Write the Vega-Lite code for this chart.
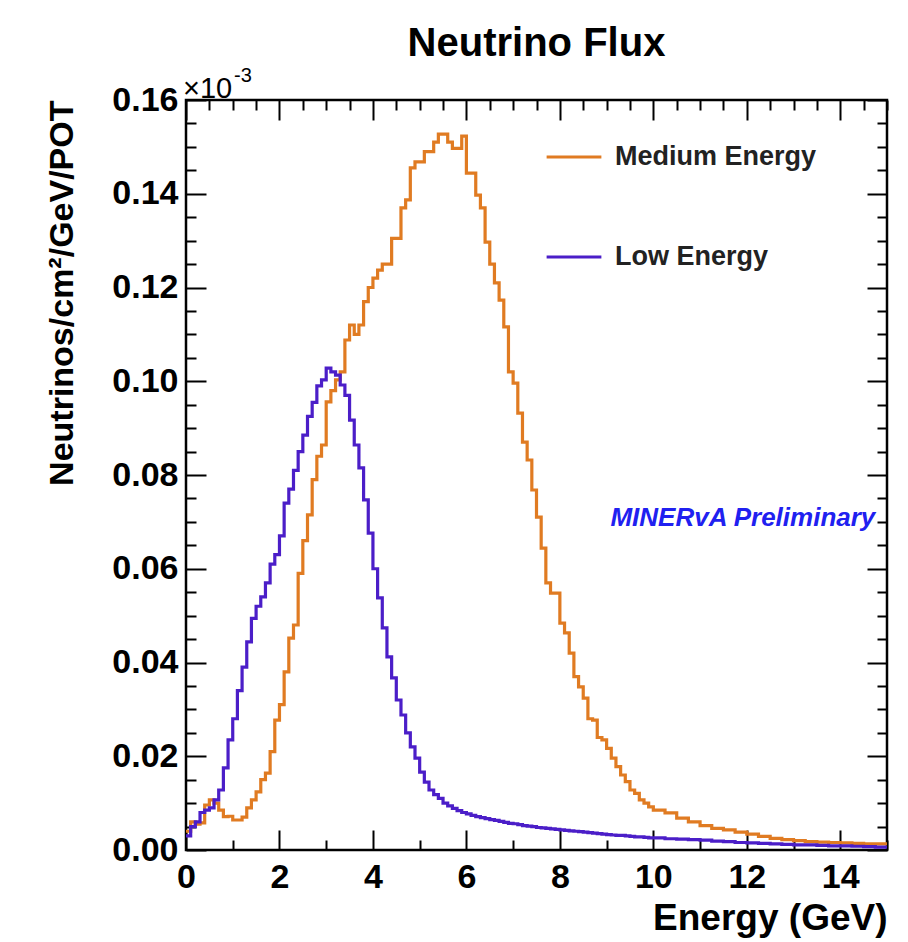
{
  "$schema": "https://vega.github.io/schema/vega-lite/v6.json",
  "autosize": "none",
  "width": 701,
  "height": 750,
  "padding": {"left": 186, "top": 100, "right": 21, "bottom": 92},
  "background": "white",
  "config": {
    "font": "Liberation Sans",
    "view": {"stroke": "black", "strokeWidth": 2.5},
    "axis": {"domain": false, "grid": false, "tickColor": "black", "tickWidth": 2, "labelColor": "black", "titleColor": "black", "labelFont": "Liberation Sans", "titleFont": "Liberation Sans", "labelFontWeight": "bold", "titleFontWeight": "bold"}
  },
  "title": {"text": "Neutrino Flux", "fontSize": 40, "fontWeight": "bold", "font": "Liberation Sans", "color": "black", "anchor": "middle", "offset": 2},
  "data": {"values": [
    {"E":0.0,"Medium Energy":0.004,"Low Energy":0.003},
    {"E":0.1,"Medium Energy":0.006,"Low Energy":0.005},
    {"E":0.2,"Medium Energy":0.0055,"Low Energy":0.006},
    {"E":0.3,"Medium Energy":0.0058,"Low Energy":0.008},
    {"E":0.4,"Medium Energy":0.0096,"Low Energy":0.0085},
    {"E":0.5,"Medium Energy":0.0107,"Low Energy":0.009},
    {"E":0.6,"Medium Energy":0.0100,"Low Energy":0.0107},
    {"E":0.7,"Medium Energy":0.0085,"Low Energy":0.0128},
    {"E":0.8,"Medium Energy":0.0071,"Low Energy":0.0175},
    {"E":0.9,"Medium Energy":0.0072,"Low Energy":0.0235},
    {"E":1.0,"Medium Energy":0.0064,"Low Energy":0.028},
    {"E":1.1,"Medium Energy":0.0064,"Low Energy":0.034},
    {"E":1.2,"Medium Energy":0.007,"Low Energy":0.039},
    {"E":1.3,"Medium Energy":0.009,"Low Energy":0.0444},
    {"E":1.4,"Medium Energy":0.0107,"Low Energy":0.0494},
    {"E":1.5,"Medium Energy":0.0124,"Low Energy":0.052},
    {"E":1.6,"Medium Energy":0.015,"Low Energy":0.054},
    {"E":1.7,"Medium Energy":0.0164,"Low Energy":0.057},
    {"E":1.8,"Medium Energy":0.021,"Low Energy":0.061},
    {"E":1.9,"Medium Energy":0.0277,"Low Energy":0.063},
    {"E":2.0,"Medium Energy":0.031,"Low Energy":0.067},
    {"E":2.1,"Medium Energy":0.038,"Low Energy":0.074},
    {"E":2.2,"Medium Energy":0.0452,"Low Energy":0.077},
    {"E":2.3,"Medium Energy":0.048,"Low Energy":0.081},
    {"E":2.4,"Medium Energy":0.059,"Low Energy":0.085},
    {"E":2.5,"Medium Energy":0.066,"Low Energy":0.0885},
    {"E":2.6,"Medium Energy":0.0715,"Low Energy":0.0925},
    {"E":2.7,"Medium Energy":0.079,"Low Energy":0.0955},
    {"E":2.8,"Medium Energy":0.084,"Low Energy":0.099},
    {"E":2.9,"Medium Energy":0.0864,"Low Energy":0.1003},
    {"E":3.0,"Medium Energy":0.0956,"Low Energy":0.1028},
    {"E":3.1,"Medium Energy":0.098,"Low Energy":0.102},
    {"E":3.2,"Medium Energy":0.1003,"Low Energy":0.1013},
    {"E":3.3,"Medium Energy":0.102,"Low Energy":0.0992},
    {"E":3.4,"Medium Energy":0.1088,"Low Energy":0.097},
    {"E":3.5,"Medium Energy":0.112,"Low Energy":0.0917},
    {"E":3.6,"Medium Energy":0.110,"Low Energy":0.0864},
    {"E":3.7,"Medium Energy":0.112,"Low Energy":0.0815},
    {"E":3.8,"Medium Energy":0.117,"Low Energy":0.0747},
    {"E":3.9,"Medium Energy":0.120,"Low Energy":0.0676},
    {"E":4.0,"Medium Energy":0.122,"Low Energy":0.060},
    {"E":4.1,"Medium Energy":0.1237,"Low Energy":0.0538},
    {"E":4.2,"Medium Energy":0.125,"Low Energy":0.0474},
    {"E":4.3,"Medium Energy":0.125,"Low Energy":0.0412},
    {"E":4.4,"Medium Energy":0.1305,"Low Energy":0.0367},
    {"E":4.5,"Medium Energy":0.1305,"Low Energy":0.032},
    {"E":4.6,"Medium Energy":0.137,"Low Energy":0.0288},
    {"E":4.7,"Medium Energy":0.1387,"Low Energy":0.025},
    {"E":4.8,"Medium Energy":0.1455,"Low Energy":0.022},
    {"E":4.9,"Medium Energy":0.1468,"Low Energy":0.0196},
    {"E":5.0,"Medium Energy":0.1468,"Low Energy":0.0166},
    {"E":5.1,"Medium Energy":0.149,"Low Energy":0.0145},
    {"E":5.2,"Medium Energy":0.149,"Low Energy":0.0128},
    {"E":5.3,"Medium Energy":0.151,"Low Energy":0.0118},
    {"E":5.4,"Medium Energy":0.1527,"Low Energy":0.011},
    {"E":5.5,"Medium Energy":0.1527,"Low Energy":0.0100},
    {"E":5.6,"Medium Energy":0.151,"Low Energy":0.0094},
    {"E":5.7,"Medium Energy":0.1497,"Low Energy":0.0089},
    {"E":5.8,"Medium Energy":0.1497,"Low Energy":0.0084},
    {"E":5.9,"Medium Energy":0.1523,"Low Energy":0.0080},
    {"E":6.0,"Medium Energy":0.1444,"Low Energy":0.0077},
    {"E":6.1,"Medium Energy":0.1444,"Low Energy":0.0074},
    {"E":6.2,"Medium Energy":0.1397,"Low Energy":0.0071},
    {"E":6.3,"Medium Energy":0.137,"Low Energy":0.0069},
    {"E":6.4,"Medium Energy":0.1297,"Low Energy":0.0067},
    {"E":6.5,"Medium Energy":0.125,"Low Energy":0.0065},
    {"E":6.6,"Medium Energy":0.121,"Low Energy":0.0063},
    {"E":6.7,"Medium Energy":0.1173,"Low Energy":0.0061},
    {"E":6.8,"Medium Energy":0.1116,"Low Energy":0.0059},
    {"E":6.9,"Medium Energy":0.102,"Low Energy":0.0057},
    {"E":7.0,"Medium Energy":0.0996,"Low Energy":0.0056},
    {"E":7.1,"Medium Energy":0.0932,"Low Energy":0.0054},
    {"E":7.2,"Medium Energy":0.087,"Low Energy":0.0052},
    {"E":7.3,"Medium Energy":0.0832,"Low Energy":0.0051},
    {"E":7.4,"Medium Energy":0.0768,"Low Energy":0.0050},
    {"E":7.5,"Medium Energy":0.071,"Low Energy":0.0048},
    {"E":7.6,"Medium Energy":0.0644,"Low Energy":0.0047},
    {"E":7.7,"Medium Energy":0.057,"Low Energy":0.0046},
    {"E":7.8,"Medium Energy":0.0548,"Low Energy":0.0045},
    {"E":7.9,"Medium Energy":0.0548,"Low Energy":0.0044},
    {"E":8.0,"Medium Energy":0.0484,"Low Energy":0.0043},
    {"E":8.1,"Medium Energy":0.0463,"Low Energy":0.0042},
    {"E":8.2,"Medium Energy":0.042,"Low Energy":0.0041},
    {"E":8.3,"Medium Energy":0.037,"Low Energy":0.0040},
    {"E":8.4,"Medium Energy":0.0348,"Low Energy":0.0039},
    {"E":8.5,"Medium Energy":0.0324,"Low Energy":0.0038},
    {"E":8.6,"Medium Energy":0.028,"Low Energy":0.0037},
    {"E":8.7,"Medium Energy":0.0277,"Low Energy":0.0036},
    {"E":8.8,"Medium Energy":0.024,"Low Energy":0.0035},
    {"E":8.9,"Medium Energy":0.0235,"Low Energy":0.0034},
    {"E":9.0,"Medium Energy":0.0217,"Low Energy":0.0033},
    {"E":9.1,"Medium Energy":0.0196,"Low Energy":0.0032},
    {"E":9.2,"Medium Energy":0.0178,"Low Energy":0.0031},
    {"E":9.3,"Medium Energy":0.016,"Low Energy":0.0031},
    {"E":9.4,"Medium Energy":0.0146,"Low Energy":0.0030},
    {"E":9.5,"Medium Energy":0.0128,"Low Energy":0.0029},
    {"E":9.6,"Medium Energy":0.0121,"Low Energy":0.0028},
    {"E":9.7,"Medium Energy":0.0107,"Low Energy":0.0028},
    {"E":9.8,"Medium Energy":0.010,"Low Energy":0.0027},
    {"E":9.9,"Medium Energy":0.0092,"Low Energy":0.0026},
    {"E":10.0,"Medium Energy":0.0085,"Low Energy":0.0026},
    {"E":10.25,"Medium Energy":0.0079,"Low Energy":0.0024},
    {"E":10.5,"Medium Energy":0.0068,"Low Energy":0.0023},
    {"E":10.75,"Medium Energy":0.0060,"Low Energy":0.0022},
    {"E":11.0,"Medium Energy":0.0052,"Low Energy":0.0021},
    {"E":11.25,"Medium Energy":0.0046,"Low Energy":0.0019},
    {"E":11.5,"Medium Energy":0.0043,"Low Energy":0.0018},
    {"E":11.75,"Medium Energy":0.0038,"Low Energy":0.0016},
    {"E":12.0,"Medium Energy":0.0034,"Low Energy":0.0015},
    {"E":12.25,"Medium Energy":0.0029,"Low Energy":0.0014},
    {"E":12.5,"Medium Energy":0.0025,"Low Energy":0.0013},
    {"E":12.75,"Medium Energy":0.0022,"Low Energy":0.0012},
    {"E":13.0,"Medium Energy":0.0020,"Low Energy":0.0011},
    {"E":13.25,"Medium Energy":0.0018,"Low Energy":0.0011},
    {"E":13.5,"Medium Energy":0.0017,"Low Energy":0.0010},
    {"E":13.75,"Medium Energy":0.0016,"Low Energy":0.0009},
    {"E":14.0,"Medium Energy":0.0015,"Low Energy":0.0009},
    {"E":14.25,"Medium Energy":0.0014,"Low Energy":0.0008},
    {"E":14.5,"Medium Energy":0.0013,"Low Energy":0.0007},
    {"E":14.75,"Medium Energy":0.0013,"Low Energy":0.0006},
    {"E":15.0,"Medium Energy":0.0013,"Low Energy":0.0006}
  ]},
  "resolve": {"axis": {"x": "independent", "y": "independent"}},
  "layer": [
    {
      "transform": [{"fold": ["Medium Energy", "Low Energy"], "as": ["s", "v"]}],
      "mark": {"type": "line", "interpolate": "step-after", "strokeWidth": 3.2},
      "encoding": {
        "x": {"field": "E", "type": "quantitative", "scale": {"domain": [0, 15], "nice": false, "zero": false},
          "axis": {"orient": "bottom", "values": [0,0.5,1,1.5,2,2.5,3,3.5,4,4.5,5,5.5,6,6.5,7,7.5,8,8.5,9,9.5,10,10.5,11,11.5,12,12.5,13,13.5,14,14.5,15],
            "labelExpr": "datum.value % 2 === 0 ? datum.label : ''", "format": "d",
            "tickSize": {"condition": {"test": "datum.value % 2 === 0", "value": -20}, "value": -10},
            "labelPadding": 30, "labelFontSize": 34, "labelFlush": false, "labelOverlap": false,
            "title": "Energy (GeV)", "titleFontSize": 37, "titleAnchor": "end", "titlePadding": -4}},
        "y": {"field": "v", "type": "quantitative", "scale": {"domain": [0, 0.16], "nice": false, "zero": false},
          "axis": {"orient": "left", "values": [0,0.005,0.01,0.015,0.02,0.025,0.03,0.035,0.04,0.045,0.05,0.055,0.06,0.065,0.07,0.075,0.08,0.085,0.09,0.095,0.1,0.105,0.11,0.115,0.12,0.125,0.13,0.135,0.14,0.145,0.15,0.155,0.16],
            "labelExpr": "round(datum.value*1000) % 20 === 0 ? format(datum.value, '.2f') : ''",
            "tickSize": {"condition": {"test": "round(datum.value*1000) % 20 === 0", "value": -20}, "value": -10},
            "labelPadding": 28, "labelFontSize": 34, "labelFlush": false, "labelOverlap": false,
            "title": "Neutrinos/cm²/GeV/POT", "titleFontSize": 34, "titleAnchor": "end", "titlePadding": 32}},
        "color": {"field": "s", "type": "nominal",
          "scale": {"domain": ["Medium Energy", "Low Energy"], "range": ["#E07B22", "#4B1EC8"]},
          "legend": {"orient": "none", "legendX": 359, "legendY": 28, "title": null, "symbolType": "stroke", "symbolSize": 3000, "symbolStrokeWidth": 3, "labelFontSize": 27, "labelFontWeight": "bold", "labelColor": "#222", "labelFont": "Liberation Sans", "labelLimit": 400, "rowPadding": 58, "labelOffset": 12}}
      }
    },
    {
      "transform": [{"fold": ["Medium Energy", "Low Energy"], "as": ["s", "v"]}],
      "mark": {"type": "line", "opacity": 0},
      "encoding": {
        "x": {"field": "E", "type": "quantitative",
          "axis": {"orient": "top", "values": [0,0.5,1,1.5,2,2.5,3,3.5,4,4.5,5,5.5,6,6.5,7,7.5,8,8.5,9,9.5,10,10.5,11,11.5,12,12.5,13,13.5,14,14.5,15],
            "labels": false, "title": null,
            "tickSize": {"condition": {"test": "datum.value % 2 === 0", "value": -20}, "value": -10}}},
        "y": {"field": "v", "type": "quantitative",
          "axis": {"orient": "right", "values": [0,0.005,0.01,0.015,0.02,0.025,0.03,0.035,0.04,0.045,0.05,0.055,0.06,0.065,0.07,0.075,0.08,0.085,0.09,0.095,0.1,0.105,0.11,0.115,0.12,0.125,0.13,0.135,0.14,0.145,0.15,0.155,0.16],
            "labels": false, "title": null,
            "tickSize": {"condition": {"test": "round(datum.value*1000) % 20 === 0", "value": -20}, "value": -10}}},
        "detail": {"field": "s"}
      }
    },
    {
      "data": {"values": [{"t": "MINERvA Preliminary"}]},
      "mark": {"type": "text", "align": "right", "baseline": "middle", "fontSize": 26, "fontWeight": "bold", "fontStyle": "italic", "color": "#2020F0", "font": "Liberation Sans"},
      "encoding": {
        "x": {"datum": 14.75, "type": "quantitative", "axis": null},
        "y": {"datum": 0.0708, "type": "quantitative", "axis": null},
        "text": {"field": "t"}
      }
    },
    {
      "data": {"values": [{"t": "×10"}]},
      "mark": {"type": "text", "align": "left", "baseline": "alphabetic", "fontSize": 29, "color": "black", "font": "Liberation Sans", "dy": -2, "dx": -3},
      "encoding": {
        "x": {"datum": 0, "type": "quantitative", "axis": null},
        "y": {"datum": 0.16, "type": "quantitative", "axis": null},
        "text": {"field": "t"}
      }
    },
    {
      "data": {"values": [{"t": "-3"}]},
      "mark": {"type": "text", "align": "left", "baseline": "alphabetic", "fontSize": 20, "color": "black", "font": "Liberation Sans", "dy": -18, "dx": 48},
      "encoding": {
        "x": {"datum": 0, "type": "quantitative", "axis": null},
        "y": {"datum": 0.16, "type": "quantitative", "axis": null},
        "text": {"field": "t"}
      }
    }
  ]
}
